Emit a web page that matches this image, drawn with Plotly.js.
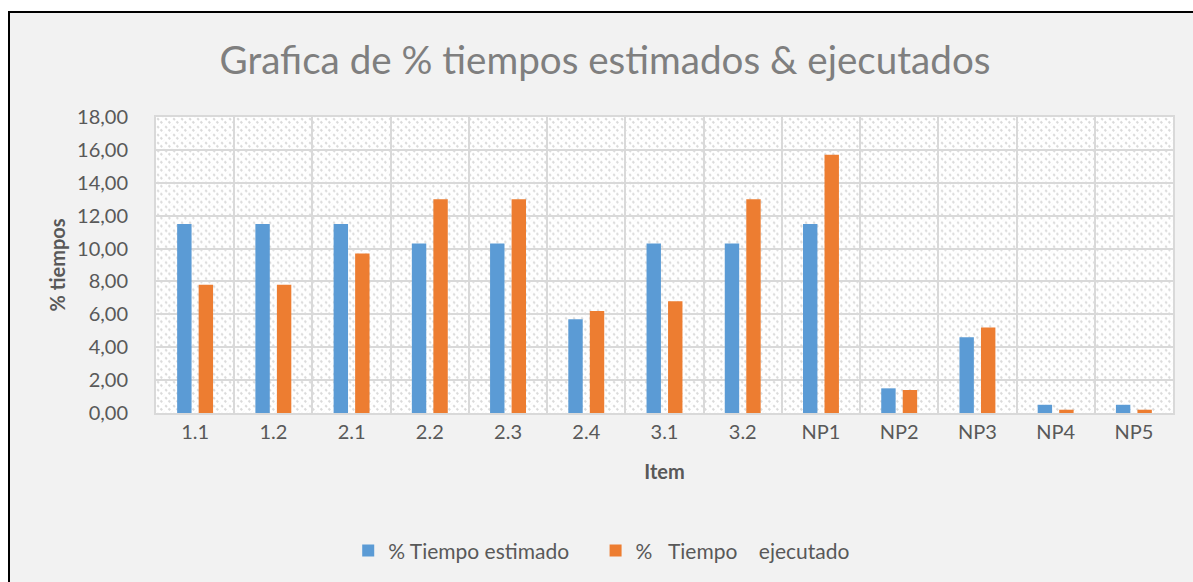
<!DOCTYPE html>
<html>
<head>
<meta charset="utf-8">
<script src="https://cdn.plot.ly/plotly-3.0.1.min.js"></script>
<style>
  html, body { margin: 0; padding: 0; background: #ffffff; width: 1193px; height: 582px; overflow: hidden; }
  #frame { position: absolute; left: 8px; top: 11px; border-top: 2px solid #000; border-left: 2px solid #000; background: #F2F2F2; }
  #chart { width: 1183px; height: 569px; }
</style>
</head>
<body>
<div id="frame"><div id="chart"></div></div>
<script>
const items = ['1.1', '1.2', '2.1', '2.2', '2.3', '2.4', '3.1', '3.2', 'NP1', 'NP2', 'NP3', 'NP4', 'NP5'];
const estimado = [11.5, 11.5, 11.5, 10.3, 10.3, 5.7, 10.3, 10.3, 11.5, 1.5, 4.6, 0.5, 0.5];
const ejecutado = [7.8, 7.8, 9.7, 13.0, 13.0, 6.2, 6.8, 13.0, 15.7, 1.4, 5.2, 0.2, 0.2];
const yTicks = [0, 2, 4, 6, 8, 10, 12, 14, 16, 18];

const hatchSvg = '<svg xmlns="http://www.w3.org/2000/svg" width="1017" height="297" viewBox="0 0 1017 297" preserveAspectRatio="none">' +
  '<defs><pattern id="p" width="8" height="8" patternUnits="userSpaceOnUse">' +
  '<rect width="8" height="8" fill="#ffffff"/>' +
  '<path d="M-2,-2 L10,10 M-2,6 L2,10 M6,-2 L10,2" stroke="#DADADA" stroke-width="2" stroke-dasharray="2.4,2.2"/>' +
  '</pattern></defs><rect width="1017" height="297" fill="url(#p)"/></svg>';

const font = 'Lato, "Open Sans", sans-serif';
const data = [
  { type: 'bar', name: '% Tiempo estimado\u00A0\u00A0\u00A0\u00A0', x: items, y: estimado, marker: { color: '#5B9BD5' } },
  { type: 'bar', name: '%\u00A0\u00A0\u00A0Tiempo\u00A0\u00A0\u00A0\u00A0ejecutado', x: items, y: ejecutado, marker: { color: '#ED7D31' } }
];

const layout = {
  width: 1183, height: 569,
  margin: { l: 146, r: 20, t: 104, b: 168 },
  paper_bgcolor: '#F2F2F2',
  plot_bgcolor: '#ffffff',
  separators: ',.',
  font: { family: font, size: 20, color: '#595959' },
  barmode: 'group',
  bargap: 0.45,
  bargroupgap: 0.33,
  title: {
    text: 'Grafica de % tiempos estimados & ejecutados',
    font: { family: font, size: 38.6, color: '#7F7F7F' },
    xref: 'container', x: 0.503, xanchor: 'center',
    yref: 'container', y: 0.917, yanchor: 'middle'
  },
  xaxis: {
    type: 'category',
    tickson: 'boundaries',
    showgrid: true, gridcolor: '#D9D9D9', gridwidth: 2,
    showline: true, linecolor: '#D9D9D9', linewidth: 2, mirror: true,
    ticks: 'outside', ticklen: 15, tickcolor: 'rgba(0,0,0,0)',
    tickfont: { family: font, size: 20, color: '#595959' },
    title: { text: '<b>Item</b>', font: { family: font, size: 20, color: '#595959' }, standoff: 23 },
    automargin: false
  },
  yaxis: {
    range: [0, 18],
    tickvals: yTicks,
    tickformat: '.2f',
    showgrid: true, gridcolor: '#D9D9D9', gridwidth: 2,
    showline: true, linecolor: '#D9D9D9', linewidth: 2, mirror: true,
    zeroline: false,
    ticks: 'outside', ticklen: 22, tickcolor: 'rgba(0,0,0,0)',
    tickfont: { family: font, size: 20, color: '#595959' },
    title: { text: '<b>% tiempos</b>', font: { family: font, size: 20, color: '#595959' }, standoff: 6 },
    automargin: false
  },
  legend: {
    orientation: 'h',
    x: 0.189, xanchor: 'left',
    y: -0.461, yanchor: 'middle',
    font: { family: font, size: 21, color: '#595959' },
    bgcolor: 'rgba(0,0,0,0)',
    itemwidth: 30
  },
  images: [{
    source: 'data:image/svg+xml;charset=utf-8,' + encodeURIComponent(hatchSvg),
    xref: 'paper', yref: 'paper', x: 0, y: 1, sizex: 1, sizey: 1,
    xanchor: 'left', yanchor: 'top', sizing: 'stretch', layer: 'below'
  }],
  showlegend: true
};

Plotly.newPlot('chart', data, layout, { displayModeBar: false, responsive: false });
</script>
</body>
</html>
